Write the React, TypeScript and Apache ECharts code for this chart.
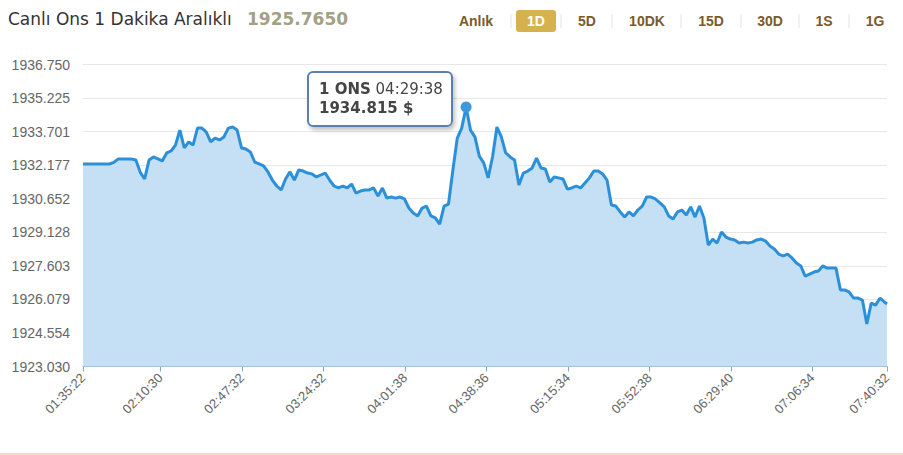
import React, { useEffect, useRef } from 'react';
import * as echarts from 'echarts';

const titleText = 'Canlı Ons 1 Dakika Aralıklı';
const lastPrice = '1925.7650';
const rangeButtons = ['Anlık', '1D', '5D', '10DK', '15D', '30D', '1S', '1G'];
const activeButton = '1D';

const seriesName = '1 ONS';
const startTime = '01:35:22';
const endTime = '07:40:32';
const stepMinutes = 2;

const xTickLabels = [
  '01:35:22', '02:10:30', '02:47:32', '03:24:32', '04:01:38', '04:38:36',
  '05:15:34', '05:52:38', '06:29:40', '07:06:34', '07:40:32',
];

const yTickValues = [
  1923.030, 1924.554, 1926.079, 1927.603, 1929.128,
  1930.652, 1932.177, 1933.701, 1935.225, 1936.750,
];

const prices = [
  1932.23, 1932.23, 1932.23, 1932.23, 1932.23, 1932.23, 1932.23, 1932.30, 1932.46, 1932.46,
  1932.46, 1932.46, 1932.41, 1931.85, 1931.55, 1932.41, 1932.55, 1932.46, 1932.37, 1932.73,
  1932.82, 1933.09, 1933.77, 1932.96, 1933.23, 1933.09, 1933.86, 1933.86, 1933.68, 1933.23,
  1933.41, 1933.32, 1933.46, 1933.86, 1933.91, 1933.77, 1932.96, 1932.91, 1932.78, 1932.32,
  1932.23, 1932.14, 1931.87, 1931.50, 1931.23, 1931.05, 1931.55, 1931.87, 1931.50, 1931.96,
  1931.91, 1931.82, 1931.78, 1931.64, 1931.73, 1931.82, 1931.50, 1931.23, 1931.14, 1931.23,
  1931.14, 1931.32, 1930.91, 1931.00, 1931.05, 1931.05, 1931.14, 1930.78, 1931.14, 1930.68,
  1930.73, 1930.68, 1930.73, 1930.64, 1930.23, 1930.00, 1929.87, 1930.23, 1930.32, 1929.87,
  1929.78, 1929.50, 1930.32, 1930.41, 1931.96, 1933.41, 1933.86, 1934.815, 1933.77, 1933.46,
  1932.59, 1932.28, 1931.60, 1932.55, 1933.91, 1933.46, 1932.73, 1932.55, 1932.41, 1931.28,
  1931.82, 1931.91, 1932.05, 1932.50, 1932.05, 1932.00, 1931.41, 1931.64, 1931.60, 1931.55,
  1931.09, 1931.14, 1931.23, 1931.14, 1931.37, 1931.60, 1931.91, 1931.91, 1931.78, 1931.50,
  1930.37, 1930.32, 1930.05, 1929.82, 1930.05, 1929.87, 1930.14, 1930.32, 1930.73, 1930.73,
  1930.64, 1930.46, 1930.28, 1929.87, 1929.73, 1930.05, 1930.14, 1929.91, 1930.28, 1929.82,
  1930.32, 1929.78, 1928.55, 1928.82, 1928.64, 1929.14, 1928.91, 1928.82, 1928.78, 1928.64,
  1928.68, 1928.64, 1928.68, 1928.78, 1928.82, 1928.73, 1928.50, 1928.37, 1928.14, 1928.05,
  1928.14, 1927.96, 1927.73, 1927.60, 1927.14, 1927.23, 1927.32, 1927.37, 1927.60, 1927.50,
  1927.50, 1927.50, 1926.51, 1926.51, 1926.41, 1926.14, 1926.14, 1926.05, 1924.96, 1925.91,
  1925.82, 1926.14, 1925.96, 1925.87,
];

const peakIndex = 87;
const peakTime = '04:29:38';
const peakPrice = 1934.815;

const toSec = (t: string) => {
  const [h, m, s] = t.split(':').map(Number);
  return h * 3600 + m * 60 + s;
};
const fmtSec = (v: number) => {
  const r = Math.round(v);
  const h = Math.floor(r / 3600);
  const m = Math.floor((r % 3600) / 60);
  const s = r % 60;
  const p = (n: number) => String(n).padStart(2, '0');
  return `${p(h)}:${p(m)}:${p(s)}`;
};

export default function App() {
  const ref = useRef<HTMLDivElement>(null);

  useEffect(() => {
    document.body.style.margin = '0';
    if (!ref.current) return;
    const chart = echarts.init(ref.current, undefined, { renderer: 'svg' });

    const t0 = toSec(startTime);
    const t1 = toSec(endTime);
    const seriesData = prices.map((v, i) => [
      i === prices.length - 1 ? t1 : t0 + i * stepMinutes * 60,
      v,
    ]);
    const xTicks = xTickLabels.map(toSec);

    const buttonCenters = [476, 536, 587, 647, 711, 770, 824, 875];
    const separators = [511, 561, 612, 681, 741, 799, 849];

    const graphics: any[] = [
      {
        type: 'text',
        left: 8,
        top: 10,
        style: {
          text: titleText,
          fill: '#333',
          font: '17px "DejaVu Sans"',
        },
      },
      {
        type: 'text',
        left: 247,
        top: 10,
        style: {
          text: lastPrice,
          fill: '#a2a184',
          font: 'bold 17px "DejaVu Sans"',
        },
      },
      {
        type: 'rect',
        shape: { x: 516, y: 10, width: 40, height: 22, r: 3 },
        style: { fill: '#d6b24e' },
      },
      ...rangeButtons.map((b, i) => ({
        type: 'text',
        x: buttonCenters[i],
        y: 21,
        style: {
          text: b,
          fill: b === activeButton ? '#fff' : '#7b5b2c',
          font: 'bold 14px "Liberation Sans"',
          align: 'center',
          verticalAlign: 'middle',
        },
      })),
      ...separators.map((x) => ({
        type: 'line',
        shape: { x1: x, y1: 14, x2: x, y2: 28 },
        style: { stroke: '#e2e2e2', lineWidth: 1 },
      })),
      {
        type: 'rect',
        shape: { x: 0, y: 453, width: 903, height: 2 },
        style: { fill: '#f3e2ad' },
      },
    ];

    chart.setOption({
      animation: false,
      grid: { left: 83, right: 16, top: 64.5, bottom: 88.5, containLabel: false },
      graphic: graphics,
      tooltip: {
        trigger: 'axis',
        triggerOn: 'none',
        alwaysShowContent: true,
        axisPointer: { type: 'none' },
        backgroundColor: 'rgba(255,255,255,0.96)',
        borderColor: '#5b80ad',
        borderWidth: 2,
        borderRadius: 6,
        padding: [7, 8, 7, 10],
        textStyle: { color: '#444', fontFamily: 'DejaVu Sans', fontSize: 15, lineHeight: 19 },
        extraCssText: 'box-shadow: 2px 3px 4px rgba(0,0,0,0.25);',
        position: (point: number[], _p: any, _d: any, _r: any, size: any) => [
          point[0] - size.contentSize[0] - 13,
          point[1] - 36,
        ],
        formatter: () =>
          `<b>${seriesName}</b> ${peakTime}<br/><b>${peakPrice.toFixed(3)} $</b>`,
      },
      xAxis: {
        type: 'value',
        min: t0,
        max: t1,
        axisLine: { lineStyle: { color: '#86a5c5', width: 1 } },
        axisTick: { show: true, length: 5, customValues: xTicks, lineStyle: { color: '#86a5c5' } },
        axisLabel: {
          customValues: xTicks,
          rotate: 45,
          margin: 9,
          color: '#666',
          fontSize: 13,
          fontFamily: 'Liberation Sans',
          formatter: (v: number) => fmtSec(v),
          showMinLabel: true,
          showMaxLabel: true,
        },
        splitLine: { show: false },
      },
      yAxis: {
        type: 'value',
        min: yTickValues[0],
        max: yTickValues[yTickValues.length - 1],
        axisLine: { show: false },
        axisTick: { show: false, customValues: yTickValues },
        axisLabel: {
          customValues: yTickValues,
          formatter: (v: number) => v.toFixed(3),
          color: '#666',
          fontSize: 14,
          margin: 13,
          fontFamily: 'Liberation Sans',
        },
        splitLine: { show: true, lineStyle: { color: '#e8e8e8', width: 1 } },
      },
      series: [
        {
          name: seriesName,
          type: 'line',
          data: seriesData,
          showSymbol: false,
          symbol: 'none',
          lineStyle: { color: '#2b90d8', width: 3 },
          areaStyle: { color: '#c5e0f5', opacity: 1 },
          emphasis: { disabled: true },
          markPoint: {
            silent: true,
            symbol: 'circle',
            symbolSize: 11,
            itemStyle: { color: '#3f98da' },
            label: { show: false },
            data: [{ coord: [seriesData[peakIndex][0], peakPrice] }],
          },
        },
      ],
    });

    chart.dispatchAction({ type: 'showTip', seriesIndex: 0, dataIndex: peakIndex });

    return () => chart.dispose();
  }, []);

  return <div ref={ref} style={{ width: 903, height: 455 }} />;
}
